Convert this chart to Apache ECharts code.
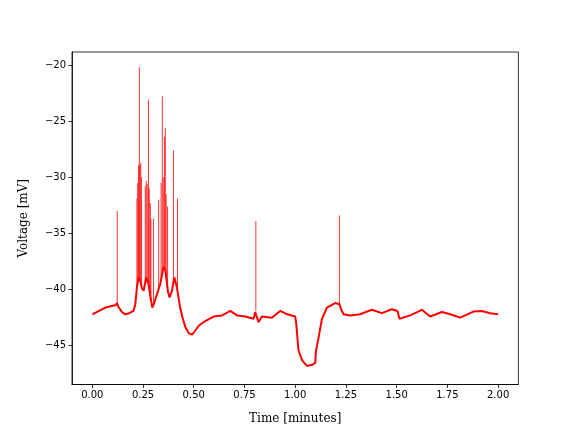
<!DOCTYPE html>
<html>
<head>
<meta charset="utf-8">
<script src="https://cdn.jsdelivr.net/npm/echarts@6/dist/echarts.min.js"></script>
<style>html,body{margin:0;padding:0;background:#fff}#c{width:576px;height:432px}</style>
</head>
<body>
<div id="c"></div>
<script>
// Membrane voltage trace (slow component), time in minutes
const times = [0, 0.064, 0.113, 0.122, 0.128, 0.146, 0.163, 0.182, 0.203, 0.212, 0.220, 0.228, 0.236, 0.245, 0.253, 0.266, 0.277, 0.286, 0.296, 0.305, 0.319, 0.335, 0.351, 0.360, 0.373, 0.381, 0.393, 0.404, 0.417, 0.433, 0.445, 0.458, 0.476, 0.493, 0.526, 0.557, 0.598, 0.640, 0.680, 0.713, 0.754, 0.795, 0.803, 0.806, 0.819, 0.836, 0.885, 0.906, 0.926, 0.961, 1.000, 1.005, 1.016, 1.034, 1.058, 1.066, 1.084, 1.099, 1.102, 1.115, 1.132, 1.156, 1.197, 1.218, 1.227, 1.238, 1.271, 1.320, 1.378, 1.427, 1.476, 1.504, 1.514, 1.567, 1.624, 1.665, 1.723, 1.764, 1.813, 1.878, 1.920, 1.961, 2.000];
const voltages = [-42.2, -41.6, -41.4, -41.2, -41.5, -42.0, -42.2, -42.1, -41.9, -41.3, -39.8, -38.9, -39.2, -39.9, -40.1, -38.9, -39.5, -40.6, -41.6, -41.2, -40.4, -39.5, -38.0, -38.3, -40.2, -40.7, -40.1, -38.9, -39.8, -41.6, -42.5, -43.3, -43.9, -44.0, -43.2, -42.8, -42.4, -42.3, -41.9, -42.3, -42.4, -42.6, -42.0, -41.9, -42.9, -42.4, -42.5, -42.2, -41.9, -42.2, -42.4, -43.0, -45.4, -46.3, -46.8, -46.9, -46.7, -46.5, -45.5, -44.3, -42.6, -41.6, -41.2, -41.3, -41.8, -42.2, -42.3, -42.2, -41.8, -42.1, -41.75, -41.9, -42.6, -42.3, -41.8, -42.4, -42.0, -42.2, -42.5, -41.96, -41.9, -42.1, -42.2];

// Action potentials: time, peak voltage, voltage at spike onset
const spikeTimes = [0.123, 0.220, 0.224, 0.228, 0.232, 0.235, 0.239, 0.242, 0.261, 0.266, 0.271, 0.277, 0.281, 0.286, 0.289, 0.302, 0.327, 0.339, 0.345, 0.350, 0.356, 0.360, 0.364, 0.371, 0.400, 0.420, 0.806, 1.218];
const spikePeaks = [-33.0, -31.9, -30.5, -28.9, -20.2, -29.0, -28.7, -30.0, -30.8, -30.3, -30.6, -23.1, -31.0, -32.3, -33.7, -33.7, -32.0, -30.5, -22.8, -30.0, -26.4, -25.6, -31.5, -32.6, -27.6, -31.9, -33.9, -33.4];
const spikeBases = [-41.3, -39.8, -39.3, -38.9, -39.0, -39.2, -39.4, -39.7, -39.4, -38.9, -39.1, -39.5, -40.0, -40.6, -40.9, -41.4, -40.0, -39.2, -38.7, -38.1, -38.1, -38.3, -38.8, -40.0, -39.2, -40.0, -41.9, -41.3];

const xTicks = [0, 0.25, 0.5, 0.75, 1.0, 1.25, 1.5, 1.75, 2.0];
const yTicks = [-45, -40, -35, -30, -25, -20];

const traceData = times.map((t, i) => [t, voltages[i]]);
const spikeData = [];
spikeTimes.forEach((t, i) => {
  spikeData.push([t, spikeBases[i]]);
  spikeData.push([t, spikePeaks[i]]);
  spikeData.push([t, '-']);
});

const minus = s => String(s).replace('-', '\u2212');
const chart = echarts.init(document.getElementById('c'), null, {renderer: 'canvas'});
chart.setOption({
  animation: false,
  backgroundColor: '#fff',
  grid: {left: 72, top: 52, right: 57.6, bottom: 47.5, show: true, borderColor: '#000', borderWidth: 0.8, backgroundColor: 'transparent'},
  xAxis: {
    type: 'value', min: -0.1, max: 2.1,
    name: 'Time [minutes]', nameLocation: 'middle', nameGap: 28,
    nameTextStyle: {fontFamily: 'DejaVu Serif', fontSize: 12, color: '#000'},
    axisLine: {show: true, onZero: false, lineStyle: {color: '#000', width: 0.8}},
    axisTick: {show: true, length: 3.5, customValues: xTicks, lineStyle: {color: '#000', width: 0.8}},
    axisLabel: {customValues: xTicks, margin: 6, fontFamily: 'DejaVu Sans', fontSize: 10, color: '#000', formatter: v => minus(v.toFixed(2))},
    splitLine: {show: false}
  },
  yAxis: {
    type: 'value', min: -48.45, max: -18.85,
    name: 'Voltage [mV]', nameLocation: 'middle', nameGap: 42, nameRotate: 90,
    nameTextStyle: {fontFamily: 'DejaVu Serif', fontSize: 12, color: '#000'},
    axisLine: {show: true, onZero: false, lineStyle: {color: '#000', width: 0.8}},
    axisTick: {show: true, length: 3.5, customValues: yTicks, lineStyle: {color: '#000', width: 0.8}},
    axisLabel: {customValues: yTicks, margin: 6, fontFamily: 'DejaVu Sans', fontSize: 10, color: '#000', formatter: v => minus(Math.round(v))},
    splitLine: {show: false}
  },
  series: [
    {type: 'line', data: traceData, showSymbol: false, lineStyle: {color: '#ff0000', width: 2}, silent: true, z: 3},
    {type: 'line', data: spikeData, showSymbol: false, connectNulls: false, lineStyle: {color: '#ff0000', width: 1, opacity: 0.8}, silent: true, z: 2}
  ]
});
</script>
</body>
</html>
